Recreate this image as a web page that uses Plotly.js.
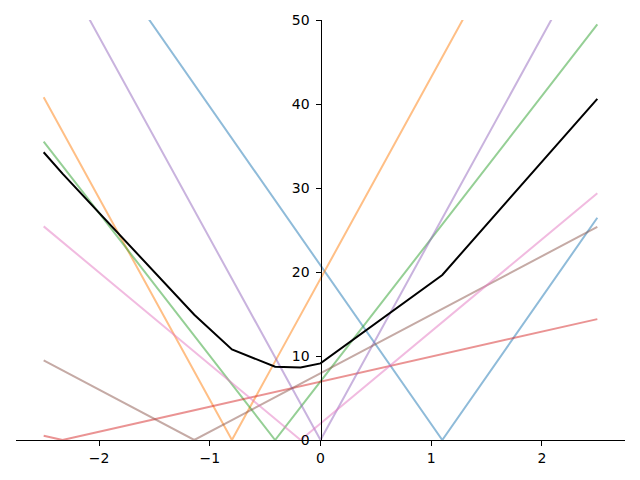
<!DOCTYPE html>
<html>
<head>
<meta charset="utf-8">
<script src="https://cdn.plot.ly/plotly-3.0.1.min.js"></script>
<style>html,body{margin:0;padding:0;background:#fff;}#chart{width:640px;height:480px;}</style>
</head>
<body>
<div id="chart"></div>
<script>
// sample x positions (endpoints and kinks)
const xs = [-2.5, -2.33, -1.14, -0.80, -0.41, -0.18, 0, 1.1, 2.5];

// series values
const blueVals   = [68.04, 64.83, 42.34, 35.91, 28.54, 24.19, 20.79, 0, 26.46];
const orangeVals = [40.8, 36.72, 8.16, 0, 9.36, 14.88, 19.2, 45.6, 79.2];
const greenVals  = [35.53, 32.64, 12.41, 6.63, 0, 3.91, 6.97, 25.67, 49.47];
const redVals    = [0.51, 0, 3.55, 4.56, 5.72, 6.41, 6.94, 10.22, 14.39];
const purpleVals = [60, 55.92, 27.36, 19.2, 9.84, 4.32, 0, 26.4, 60];
const brownVals  = [9.48, 8.29, 0, 2.37, 5.09, 6.69, 7.95, 15.61, 25.37];
const pinkVals   = [25.43, 23.56, 10.52, 6.80, 2.52, 0, 1.97, 14.03, 29.37];
const meanVals   = [34.26, 31.71, 14.91, 10.78, 8.72, 8.63, 9.12, 19.65, 40.61];

const xTicks = [-2, -1, 0, 1, 2];
const yTicks = [0, 10, 20, 30, 40, 50];

const series = [
  {y: blueVals,   c: 'rgba(31,119,180,0.5)'},
  {y: orangeVals, c: 'rgba(255,127,14,0.5)'},
  {y: greenVals,  c: 'rgba(44,160,44,0.5)'},
  {y: redVals,    c: 'rgba(214,39,40,0.5)'},
  {y: purpleVals, c: 'rgba(148,103,189,0.5)'},
  {y: brownVals,  c: 'rgba(140,86,75,0.5)'},
  {y: pinkVals,   c: 'rgba(227,119,194,0.5)'}
];

const traces = series.map(s => ({
  x: xs, y: s.y, type: 'scatter', mode: 'lines',
  line: {color: s.c, width: 2}, hoverinfo: 'skip'
}));
traces.push({x: xs, y: meanVals, type: 'scatter', mode: 'lines',
  line: {color: '#000000', width: 2}, hoverinfo: 'skip'});

const font = {family: 'DejaVu Sans, sans-serif', size: 14, color: '#000'};

const layout = {
  width: 640, height: 480,
  margin: {l: 16, r: 15, t: 20, b: 40, pad: 0},
  paper_bgcolor: '#fff', plot_bgcolor: '#fff',
  showlegend: false,
  font: font,
  xaxis: {
    range: [-2.75, 2.75], showgrid: false, zeroline: false,
    showline: true, linecolor: '#000', linewidth: 1,
    ticks: 'outside', ticklen: 5, tickwidth: 1, tickcolor: '#000',
    tickvals: xTicks, ticktext: xTicks.map(v => v < 0 ? '\u2212' + Math.abs(v) : String(v)),
    tickfont: font, fixedrange: true
  },
  yaxis: {
    range: [0, 50], showgrid: false, zeroline: false,
    anchor: 'free', position: 0.5, side: 'left',
    showline: true, linecolor: '#000', linewidth: 1,
    ticks: 'outside', ticklen: 5, tickwidth: 1, tickcolor: '#000',
    ticklabelstandoff: 3,
    tickvals: yTicks, ticktext: yTicks.map(String),
    tickfont: font, fixedrange: true
  }
};

Plotly.newPlot('chart', traces, layout, {staticPlot: true, displayModeBar: false});
</script>
</body>
</html>
